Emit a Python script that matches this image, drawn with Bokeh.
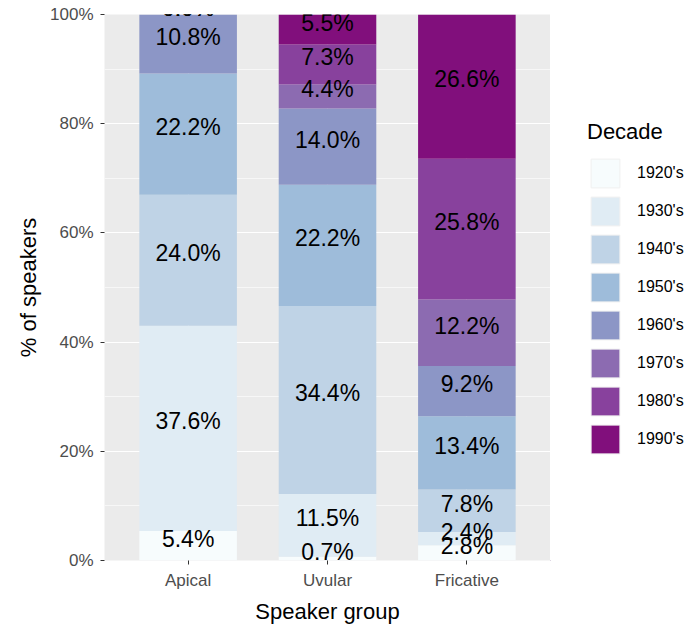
from bokeh.plotting import figure
from bokeh.models import Range1d, FixedTicker, Legend, LegendItem, ColumnDataSource
from bokeh.layouts import row
from bokeh.core.properties import value
from bokeh.embed import file_html
from bokeh.resources import INLINE

groups = ["Apical", "Uvular", "Fricative"]
decades = ["1920's", "1930's", "1940's", "1950's", "1960's", "1970's", "1980's", "1990's"]
apical = [5.4, 37.6, 24.0, 22.2, 10.8, 0.0, 0.0, 0.0]
uvular = [0.7, 11.5, 34.4, 22.2, 14.0, 4.4, 7.3, 5.5]
fricative = [2.8, 2.4, 7.8, 13.4, 9.2, 12.2, 25.8, 26.6]
colors = ["#f7fcfd", "#e0ecf4", "#bfd3e6", "#9ebcda", "#8c96c6", "#8c6bb1", "#88419d", "#810f7c"]
y_ticks = [0, 20, 40, 60, 80, 100]

FONT = "Liberation Sans"
series = [apical, uvular, fricative]
xs = list(range(1, len(groups) + 1))

data = {"x": xs}
for i, d in enumerate(decades):
    data[d] = [s[i] for s in series]
src = ColumnDataSource(data)

p = figure(width=550, height=626, output_backend="svg", toolbar_location=None,
           x_range=Range1d(0.4, len(groups) + 0.6), y_range=Range1d(0, 100),
           min_border_left=104, min_border_right=0, min_border_top=14, min_border_bottom=66)
p.background_fill_color = "#ebebeb"
p.border_fill_color = "white"
p.outline_line_color = None

renderers = p.vbar_stack(decades, x="x", width=0.7, source=src, color=colors, line_color=None)

# labels at segment middles
lx, ly, lt = [], [], []
for gi, s in enumerate(series):
    cum = 0.0
    for v in s:
        lx.append(xs[gi])
        ly.append(cum + v / 2)
        lt.append(f"{v:.1f}%")
        cum += v
p.text(x=lx, y=ly, text=lt, text_align="center", text_baseline="middle", y_offset=-7,
       text_font=value(FONT), text_font_size="23px", text_color="black")

# axes
p.xaxis.ticker = FixedTicker(ticks=xs)
p.xaxis.major_label_overrides = {x: g for x, g in zip(xs, groups)}
p.yaxis.ticker = FixedTicker(ticks=y_ticks, minor_ticks=[10, 30, 50, 70, 90])
p.yaxis.major_label_overrides = {t: f"{t}%" for t in y_ticks}
for ax in (p.xaxis[0], p.yaxis[0]):
    ax.axis_line_color = None
    ax.major_tick_line_color = "#333333"
    ax.major_tick_in = 0
    ax.major_tick_out = 4
    ax.minor_tick_line_color = None
    ax.major_label_text_font = FONT
    ax.major_label_text_font_size = "17px"
    ax.major_label_text_color = "#4d4d4d"
    ax.axis_label_text_font = FONT
    ax.axis_label_text_font_size = "22px"
    ax.axis_label_text_font_style = "normal"
    ax.axis_label_text_color = "black"
p.xaxis.axis_label = "Speaker group"
p.yaxis.axis_label = "% of speakers"
p.xaxis.major_label_standoff = 6
p.xaxis.axis_label_standoff = 6
p.yaxis.major_label_standoff = 7
p.yaxis.axis_label_standoff = 6

p.ygrid.grid_line_color = "white"
p.ygrid.grid_line_width = 1.2
p.ygrid.minor_grid_line_color = "white"
p.ygrid.minor_grid_line_width = 0.6
p.xgrid.grid_line_color = "white"
p.xgrid.grid_line_width = 1.2

# legend panel (key glyphs sit outside the visible range; only the legend shows)
pl = figure(width=144, height=626, output_backend="svg", toolbar_location=None,
            x_range=Range1d(0, 1), y_range=Range1d(0, 1),
            x_axis_type=None, y_axis_type=None, min_border=0)
pl.outline_line_color = None
pl.grid.visible = False
pl.background_fill_color = "white"
leg_rs = [pl.vbar(x=[-10], top=[-10], bottom=[-11], width=0.5, fill_color=c,
                  line_color="#f0f0f0", line_width=1)
          for c in colors]
items = [LegendItem(label=d, renderers=[r]) for d, r in zip(decades, leg_rs)]
legend = Legend(items=items, location=(37, 103), title="Decade",
                glyph_width=36, glyph_height=36, spacing=2, label_standoff=14,
                padding=0, margin=0, title_standoff=10,
                background_fill_alpha=0, border_line_color=None,
                label_text_font=FONT, label_text_font_size="16px", label_text_color="black",
                title_text_font=FONT, title_text_font_size="22px", title_text_font_style="normal",
                title_text_color="black")
pl.add_layout(legend, "center")

layout = row(p, pl)
open("out.html", "w").write(file_html(layout, INLINE))
